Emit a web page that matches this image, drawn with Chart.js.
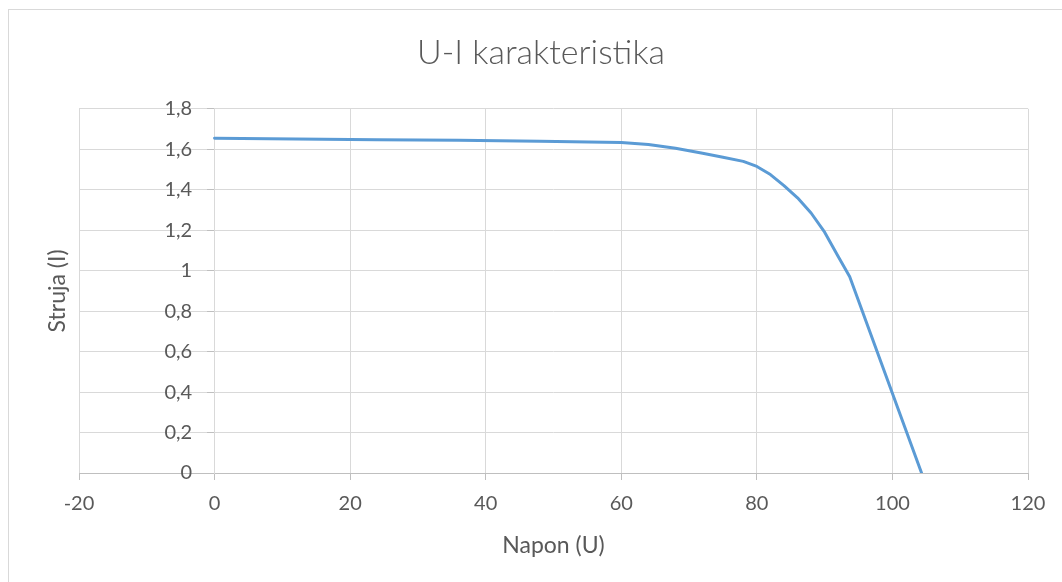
<!DOCTYPE html>
<html>
<head>
<meta charset="utf-8">
<script src="https://cdn.jsdelivr.net/npm/chart.js@4/dist/chart.umd.min.js"></script>
<style>
	html, body { margin: 0; padding: 0; background: #fff; overflow: hidden; }
	#wrap { position: relative; width: 1062px; height: 582px; }
	#frame { position: absolute; left: 8px; top: 9px; width: 1100px; height: 600px; border: 1px solid #d9d9d9; pointer-events: none; }
</style>
</head>
<body>
<div id="wrap">
	<canvas id="ui-chart" width="1062" height="582"></canvas>
	<div id="frame"></div>
</div>
<script>
// measured points of the curve
var napon = [0, 12, 24, 36, 48, 60, 64, 68, 72, 75, 78, 80, 82, 84, 86, 88, 90, 92, 93.7, 104.3];
var struja = [1.655, 1.651, 1.647, 1.644, 1.640, 1.633, 1.624, 1.605, 1.58, 1.561, 1.54, 1.515, 1.475, 1.42, 1.36, 1.285, 1.19, 1.07, 0.97, 0];

var xRange = [-20, 120, 20];
var yRange = [0, 1.8, 0.2];

var textColor = '#595959';
var gridColor = '#d9d9d9';
var axisColor = '#bfbfbf';
var fontFamily = 'Lato, "Open Sans", sans-serif';

function fmt(v) {
	return String(Math.round(v * 10) / 10).replace('.', ',');
}

document.addEventListener('DOMContentLoaded', function() {
	var points = napon.map(function(u, i) { return { x: u, y: struja[i] }; });

	new Chart(document.getElementById('ui-chart'), {
		type: 'scatter',
		data: {
			datasets: [{
				label: 'I',
				data: points,
				showLine: true,
				borderColor: '#5b9bd5',
				backgroundColor: '#5b9bd5',
				borderWidth: 3,
				pointRadius: 0,
				tension: 0,
				borderCapStyle: 'round',
				borderJoinStyle: 'round',
			}],
		},
		options: {
			responsive: false,
			animation: false,
			// left padding keeps the title centred on the whole frame
			layout: { padding: { left: 54, right: 34, top: 0, bottom: 0 } },
			plugins: {
				legend: { display: false },
				tooltip: { enabled: false },
				title: {
					display: true,
					text: 'U-I karakteristika',
					color: textColor,
					font: { family: fontFamily, size: 34, weight: 300, lineHeight: 1.2 },
					padding: { top: 33, bottom: 35 },
				},
			},
			scales: {
				x: {
					type: 'linear',
					position: 'bottom',
					min: xRange[0],
					max: xRange[1],
					afterFit: function(scale) { scale.height = 109; },
					ticks: {
						stepSize: xRange[2],
						color: textColor,
						padding: 12,
						maxRotation: 0,
						font: { family: fontFamily, size: 20 },
						callback: function(v) { return fmt(v); },
					},
					grid: { color: gridColor, tickColor: axisColor, tickLength: 7 },
					border: { color: axisColor, width: 1 },
					title: {
						display: true,
						text: 'Napon (U)',
						color: textColor,
						font: { family: fontFamily, size: 23 },
						padding: { top: 0, bottom: 23 },
					},
				},
				// value axis crossing at U = 0 (line, grid and tick marks)
				y: {
					type: 'linear',
					position: { x: 0 },
					min: yRange[0],
					max: yRange[1],
					ticks: { stepSize: yRange[2], display: false },
					grid: { color: gridColor, tickColor: axisColor, tickLength: 7 },
					border: { color: gridColor, width: 1 },
				},
				// tick labels only, set a little left of the crossing axis
				yLabels: {
					type: 'linear',
					axis: 'y',
					position: { x: -3.3 },
					min: yRange[0],
					max: yRange[1],
					ticks: {
						stepSize: yRange[2],
						color: textColor,
						font: { family: fontFamily, size: 20 },
						callback: function(v) { return fmt(v); },
					},
					grid: { display: false },
					border: { display: false },
				},
				// title-only axis on the far left
				yTitle: {
					type: 'linear',
					position: 'left',
					afterFit: function(scale) { scale.width = 25; },
					ticks: { display: false },
					grid: { display: false },
					border: { display: false },
					title: {
						display: true,
						text: 'Struja (I)',
						color: textColor,
						font: { family: fontFamily, size: 23 },
						padding: { top: -10, bottom: 0 },
					},
				},
			},
		},
	});
});
</script>
</body>
</html>
